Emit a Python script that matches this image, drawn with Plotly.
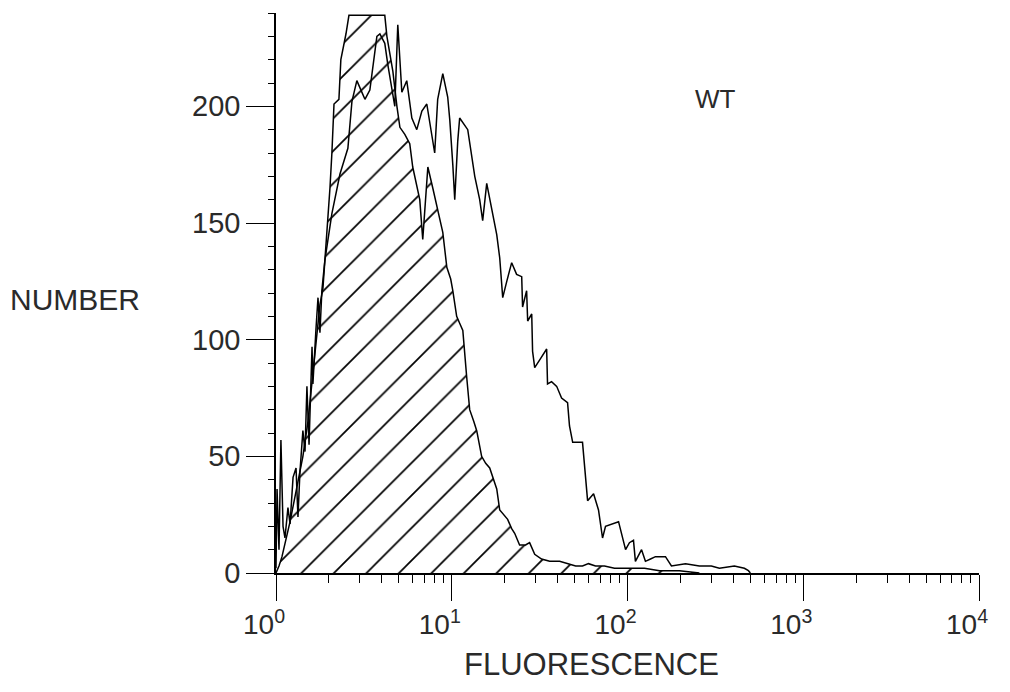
import plotly.graph_objects as go

# ---- data (log10 fluorescence, counts) ----
ctrl_log = [0.000, 0.017, 0.034, 0.057, 0.080, 0.114, 0.136, 0.153, 0.182, 0.210,
            0.233, 0.250, 0.267, 0.290, 0.307, 0.318, 0.330, 0.358, 0.369, 0.398,
            0.415, 0.500, 0.560, 0.619, 0.631, 0.642, 0.665, 0.688, 0.705, 0.733,
            0.761, 0.778, 0.801, 0.818, 0.835, 0.852, 0.864, 0.892, 0.920, 0.949,
            0.972, 0.994, 1.006, 1.028, 1.045, 1.063, 1.085, 1.102, 1.125, 1.142,
            1.170, 1.193, 1.216, 1.239, 1.256, 1.273, 1.295, 1.318, 1.341, 1.358,
            1.386, 1.420, 1.443, 1.472, 1.511, 1.557, 1.614, 1.659, 1.705, 1.744,
            1.778, 1.818, 1.869, 1.926, 2.011, 2.097, 2.182, 2.295, 2.409]
ctrl_count = [0, 3, 7, 14, 22, 35, 43, 50, 65, 85,
              100, 115, 122, 146, 165, 180, 201, 203, 220, 231,
              239, 239, 239, 239, 230, 225, 215, 200, 191, 188,
              184, 174, 166, 160, 143, 160, 174, 165, 155, 146,
              131, 126, 121, 110, 107, 104, 84, 70, 65, 61,
              50, 47, 45, 40, 36, 27, 25, 23, 19, 17,
              12, 12, 13, 8, 6, 5, 5, 4, 3, 3,
              4, 3, 3, 2, 2, 2, 1, 1, 0]

wt_log = [0.000, 0.006, 0.017, 0.028, 0.040, 0.051, 0.068, 0.080, 0.097, 0.114,
          0.125, 0.136, 0.153, 0.165, 0.176, 0.188, 0.205, 0.210, 0.227, 0.239,
          0.250, 0.261, 0.278, 0.318, 0.364, 0.409, 0.432, 0.460, 0.489, 0.506,
          0.534, 0.551, 0.574, 0.591, 0.619, 0.636, 0.659, 0.676, 0.693, 0.716,
          0.744, 0.773, 0.801, 0.830, 0.858, 0.881, 0.903, 0.920, 0.949, 0.977,
          0.989, 1.006, 1.017, 1.034, 1.045, 1.091, 1.114, 1.131, 1.159, 1.176,
          1.199, 1.216, 1.233, 1.256, 1.273, 1.290, 1.313, 1.341, 1.369, 1.398,
          1.403, 1.426, 1.432, 1.455, 1.460, 1.472, 1.506, 1.540, 1.545, 1.568,
          1.597, 1.625, 1.659, 1.670, 1.688, 1.727, 1.744, 1.773, 1.807, 1.835,
          1.858, 1.875, 1.909, 1.949, 1.989, 2.011, 2.034, 2.045, 2.080, 2.102,
          2.131, 2.159, 2.216, 2.250, 2.330, 2.409, 2.477, 2.523, 2.608, 2.665,
          2.688, 2.699]
wt_count = [2, 36, 10, 57, 20, 15, 28, 21, 41, 45,
            24, 43, 61, 52, 80, 55, 97, 81, 104, 118,
            103, 121, 134, 154, 171, 182, 202, 211, 206, 203,
            207, 217, 230, 231, 227, 218, 208, 200, 235, 206,
            211, 195, 190, 198, 201, 190, 180, 203, 214, 204,
            194, 175, 160, 185, 195, 190, 178, 170, 160, 151,
            167, 160, 153, 145, 135, 118, 125, 133, 128, 127,
            114, 121, 108, 111, 95, 88, 92, 96, 81, 82,
            80, 75, 73, 63, 56, 56, 56, 31, 34, 27,
            15, 20, 21, 22, 10, 13, 14, 5, 10, 5,
            6, 7, 7, 3, 4, 3, 3, 2, 3, 2,
            1, 0]

x_tick_vals = [1, 10, 100, 1000, 10000]
x_tick_text = ["10<sup>0</sup>", "10<sup>1</sup>", "10<sup>2</sup>", "10<sup>3</sup>", "10<sup>4</sup>"]

FONT = "Liberation Sans, Arial, sans-serif"
TXT = "#2a2a2a"

fig = go.Figure()
fig.add_trace(go.Scatter(
    x=[10 ** v for v in ctrl_log], y=ctrl_count, mode="lines",
    line=dict(color="black", width=1.5), fill="tozeroy",
    fillcolor="white",
    fillpattern=dict(shape="/", fgcolor="black", bgcolor="white", fgopacity=1,
                     fillmode="replace", size=23, solidity=0.075),
    showlegend=False, hoverinfo="skip"))
fig.add_trace(go.Scatter(
    x=[10 ** v for v in wt_log], y=wt_count, mode="lines",
    line=dict(color="black", width=1.5),
    showlegend=False, hoverinfo="skip"))

fig.update_layout(
    width=1000, height=680,
    margin=dict(l=268, r=29, t=5, b=115),
    paper_bgcolor="white", plot_bgcolor="white",
    font=dict(family=FONT, color=TXT),
    xaxis=dict(type="log", range=[0, 4], showgrid=False, zeroline=False,
               showline=True, linecolor="black", linewidth=1.5,
               ticks="outside", ticklen=26, tickwidth=1.4, tickcolor="black",
               tickmode="array", tickvals=x_tick_vals, ticktext=x_tick_text,
               ticklabelshift=-12,
               tickfont=dict(size=28, family=FONT, color=TXT),
               minor=dict(ticks="outside", ticklen=8, tickwidth=1.2,
                          tickcolor="black", dtick="D1", showgrid=False)),
    yaxis=dict(range=[0, 240], showgrid=False, zeroline=False,
               showline=True, linecolor="black", linewidth=1.5,
               ticks="outside", ticklen=28, tickwidth=1.4, tickcolor="black",
               tick0=0, dtick=50,
               tickfont=dict(size=29, family=FONT, color=TXT),
               minor=dict(ticks="outside", ticklen=6, tickwidth=1.2,
                          tickcolor="black", dtick=10, showgrid=False)),
    annotations=[
        dict(text="NUMBER", xref="paper", yref="paper", x=-0.286, y=0.488,
             showarrow=False, font=dict(size=30, family=FONT, color=TXT),
             xanchor="center", yanchor="middle"),
        dict(text="FLUORESCENCE", xref="paper", yref="paper", x=0.4495, y=-0.164,
             showarrow=False, font=dict(size=31, family=FONT, color=TXT),
             xanchor="center", yanchor="middle"),
        dict(text="WT", xref="x", yref="y", x=2.5, y=203,
             showarrow=False, font=dict(size=26, family=FONT, color=TXT),
             xanchor="center", yanchor="middle"),
    ],
)

fig.write_html("out.html")
